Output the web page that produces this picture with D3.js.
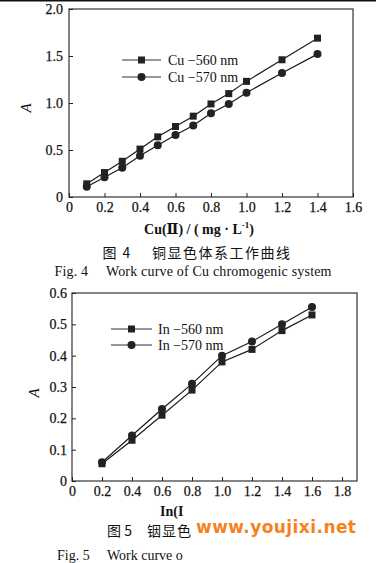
<!DOCTYPE html>
<html>
<head>
<meta charset="utf-8">
<script src="https://cdn.jsdelivr.net/npm/d3@7"></script>
<style>
  body { margin: 0; background: #fff; }
  svg { display: block; }
  text { font-family: "Liberation Serif", "DejaVu Serif", serif; fill: #111; }
  .cjk { font-family: "Noto Sans CJK SC", sans-serif; }
</style>
</head>
<body>
<svg id="chart" width="376" height="563"></svg>
<script>
// Fig. 4 : Cu
const cuConc = [0.1, 0.2, 0.3, 0.4, 0.5, 0.6, 0.7, 0.8, 0.9, 1.0, 1.2, 1.4]
const cu560 = [0.14, 0.26, 0.38, 0.51, 0.64, 0.75, 0.86, 0.99, 1.10, 1.23, 1.46, 1.69]
const cu570 = [0.11, 0.21, 0.31, 0.44, 0.55, 0.66, 0.76, 0.89, 0.99, 1.11, 1.32, 1.52]
const cuXTicks = [0, 0.2, 0.4, 0.6, 0.8, 1.0, 1.2, 1.4, 1.6]
const cuYTicks = [0, 0.5, 1.0, 1.5, 2.0]

// Fig. 5 : In
const inConc = [0.2, 0.4, 0.6, 0.8, 1.0, 1.2, 1.4, 1.6]
const in560 = [0.055, 0.13, 0.21, 0.29, 0.38, 0.42, 0.48, 0.53]
const in570 = [0.06, 0.145, 0.23, 0.31, 0.40, 0.445, 0.50, 0.555]
const inXTicks = [0, 0.2, 0.4, 0.6, 0.8, 1.0, 1.2, 1.4, 1.6, 1.8]
const inYTicks = [0, 0.1, 0.2, 0.3, 0.4, 0.5, 0.6]

const svg = d3.select('#chart')

// thin black strip on top of the scan
svg.append('rect').attr('x', 0).attr('y', 0).attr('width', 376).attr('height', 1.5).attr('fill', '#111')

function fmt(d){ return d === 0 ? '0' : d.toFixed(1) }

/**
 * draw one panel : frame, axes, two series and legend
 */
function drawPanel(cfg){
    const g = svg.append('g')
    const x = d3.scaleLinear().domain(cfg.xDomain).range([cfg.left, cfg.right])
    const y = d3.scaleLinear().domain(cfg.yDomain).range([cfg.bottom, cfg.top])

    // frame
    g.append('rect')
        .attr('x', cfg.left).attr('y', cfg.top)
        .attr('width', cfg.right - cfg.left).attr('height', cfg.bottom - cfg.top)
        .attr('fill', 'none').attr('stroke', '#444').attr('stroke-width', 1.3)

    const xAxis = g.append('g')
        .attr('transform', 'translate(0,' + cfg.bottom + ')')
        .call(d3.axisBottom(x).tickValues(cfg.xTicks).tickSizeInner(-4).tickSizeOuter(0).tickPadding(cfg.xPad).tickFormat(fmt))
    const yAxis = g.append('g')
        .attr('transform', 'translate(' + cfg.left + ',0)')
        .call(d3.axisLeft(y).tickValues(cfg.yTicks).tickSizeInner(-4).tickSizeOuter(0).tickPadding(cfg.yPad).tickFormat(fmt))
    for (const ax of [xAxis, yAxis]) {
        ax.select('.domain').remove()
        ax.selectAll('line').attr('stroke', '#222')
        ax.selectAll('text').attr('font-size', 14).attr('fill', '#111')
            .attr('stroke', '#111').attr('stroke-width', 0.25)
            .style('font-family', '"Liberation Serif", serif')
    }

    // series
    const line = d3.line().x(d => x(d[0])).y(d => y(d[1]))
    cfg.series.forEach(s => {
        const pts = cfg.xs.map((v, i) => [v, s.values[i]])
        g.append('path').datum(pts).attr('d', line)
            .attr('fill', 'none').attr('stroke', '#1a1a1a').attr('stroke-width', 1.2)
        drawMarkers(g, pts.map(p => [x(p[0]), y(p[1])]), s.shape)
    })

    // legend
    cfg.series.forEach((s, i) => {
        const ly = cfg.legend.y + i * cfg.legend.gap
        g.append('line').attr('x1', cfg.legend.x1).attr('x2', cfg.legend.x2)
            .attr('y1', ly).attr('y2', ly).attr('stroke', '#333').attr('stroke-width', 1.1)
        drawMarkers(g, [[(cfg.legend.x1 + cfg.legend.x2) / 2, ly]], s.shape)
        g.append('text').attr('x', cfg.legend.tx).attr('y', ly + 5)
            .attr('font-size', 14).text(s.name)
    })

    // y title
    g.append('text')
        .attr('transform', 'translate(' + cfg.yTitle[0] + ',' + cfg.yTitle[1] + ') rotate(-90)')
        .attr('text-anchor', 'middle').attr('font-size', 15).attr('font-style', 'italic').text('A')
    return g
}

function drawMarkers(g, pts, shape){
    if (shape === 'square') {
        g.selectAll(null).data(pts).enter().append('rect')
            .attr('x', d => d[0] - 3.5).attr('y', d => d[1] - 3.5)
            .attr('width', 7).attr('height', 7).attr('fill', '#222')
    } else {
        g.selectAll(null).data(pts).enter().append('circle')
            .attr('cx', d => d[0]).attr('cy', d => d[1]).attr('r', 4).attr('fill', '#222')
    }
}

drawPanel({
    left: 69, right: 353, top: 9, bottom: 197,
    xDomain: [0, 1.6], yDomain: [0, 2.0],
    xTicks: cuXTicks, yTicks: cuYTicks, xPad: 5, yPad: 6,
    xs: cuConc,
    series: [
        {name: 'Cu  \u2212560 nm', values: cu560, shape: 'square'},
        {name: 'Cu  \u2212570 nm', values: cu570, shape: 'circle'}
    ],
    legend: {x1: 122, x2: 161, y: 60, gap: 17, tx: 168},
    yTitle: [31, 108]
})

drawPanel({
    left: 72, right: 357, top: 293, bottom: 481,
    xDomain: [0, 1.9], yDomain: [0, 0.6],
    xTicks: inXTicks, yTicks: inYTicks, xPad: 5, yPad: 5,
    xs: inConc,
    series: [
        {name: 'In \u2212560 nm', values: in560, shape: 'square'},
        {name: 'In \u2212570 nm', values: in570, shape: 'circle'}
    ],
    legend: {x1: 111, x2: 152, y: 329, gap: 16, tx: 158},
    yTitle: [39, 393]
})

// captions, fig 4
function xTitle(sel, x, y, main, anchor){
    const t = sel.append('text').attr('x', x).attr('y', y).attr('text-anchor', anchor)
        .attr('font-size', 14).attr('font-weight', 'bold')
    t.append('tspan').text(main)
    t.append('tspan').attr('font-size', 9).attr('dy', -6).text('-1')
    t.append('tspan').attr('dy', 6).text(')')
}
xTitle(svg, 199, 234, 'Cu(\u2161) / ( mg \u00b7 L', 'middle')
svg.append('text').attr('class', 'cjk').attr('x', 197).attr('y', 258)
    .attr('text-anchor', 'middle').attr('font-size', 14).attr('letter-spacing', 1.5)
    .text('图 4\u2003 铜显色体系工作曲线')
svg.append('text').attr('x', 193).attr('y', 276).attr('text-anchor', 'middle')
    .attr('font-size', 14).attr('textLength', 277)
    .text('Fig. 4\u2003 Work curve of Cu chromogenic system')

// captions, fig 5 : the scan only shows their left part, the rest is under the watermark patch
svg.append('text').attr('x', 160).attr('y', 516)
    .attr('font-size', 14).attr('font-weight', 'bold').text('In(I')
svg.append('text').attr('class', 'cjk').attr('x', 107).attr('y', 536)
    .attr('font-size', 14).text('图 5')
svg.append('text').attr('class', 'cjk').attr('x', 147).attr('y', 536)
    .attr('font-size', 14).attr('letter-spacing', 1).text('铟显色')
svg.append('text').attr('x', 57).attr('y', 560)
    .attr('font-size', 14).text('Fig. 5\u2003 Work curve o')

// watermark
svg.append('text').attr('x', 196).attr('y', 533)
    .attr('font-size', 17).attr('font-weight', 'bold').attr('textLength', 160)
    .style('font-family', '"DejaVu Sans", sans-serif').style('fill', '#f5821f')
    .text('www.youjixi.net')
</script>
</body>
</html>
